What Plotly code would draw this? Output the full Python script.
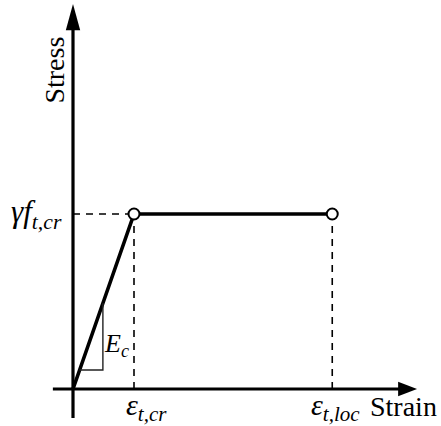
import plotly.graph_objects as go

# Bilinear tension model (normalised units)
strain_cr = 1.0      # cracking strain
strain_loc = 4.25    # localisation strain
stress_t = 1.0       # gamma * f_t,cr

curve_x = [0.0, strain_cr, strain_loc]
curve_y = [0.0, stress_t, stress_t]

# slope triangle for E_c
tri_lo = 0.109
tri_hi = 0.49

# axis extents
x_min, x_max = -0.33, 5.64
y_min, y_max = -0.166, 2.2

INK = "#000000"
SERIF = "Liberation Serif"

fig = go.Figure()

# stress-strain curve
fig.add_trace(go.Scatter(x=curve_x, y=curve_y, mode="lines",
                         line=dict(color=INK, width=3.6), hoverinfo="skip"))

# guide lines
for xv in [strain_cr, strain_loc]:
    fig.add_trace(go.Scatter(x=[xv, xv], y=[0, stress_t], mode="lines",
                             line=dict(color=INK, width=1.6, dash="7px,6px"),
                             hoverinfo="skip"))
fig.add_trace(go.Scatter(x=[0, strain_cr], y=[stress_t, stress_t], mode="lines",
                         line=dict(color=INK, width=1.6, dash="7px,6px"),
                         hoverinfo="skip"))

# slope triangle
fig.add_trace(go.Scatter(x=[tri_lo, tri_hi, tri_hi], y=[tri_lo, tri_lo, tri_hi],
                         mode="lines", line=dict(color="#222222", width=1.4),
                         hoverinfo="skip"))

# axes
fig.add_trace(go.Scatter(x=[x_min, x_max - 0.2], y=[0, 0], mode="lines",
                         line=dict(color=INK, width=3.2), hoverinfo="skip"))
fig.add_trace(go.Scatter(x=[0, 0], y=[y_min, y_max - 0.1], mode="lines",
                         line=dict(color=INK, width=3.2), hoverinfo="skip"))

# arrowheads
fig.add_shape(type="path",
              path=f"M {x_max},0 L {x_max-0.31},0.042 L {x_max-0.31},-0.042 Z",
              fillcolor=INK, line=dict(color=INK, width=0))
fig.add_shape(type="path",
              path=f"M 0,{y_max} L 0.118,{y_max-0.15} L -0.118,{y_max-0.15} Z",
              fillcolor=INK, line=dict(color=INK, width=0))

# open circles at the ends of the plateau
fig.add_trace(go.Scatter(x=[strain_cr, strain_loc], y=[stress_t, stress_t],
                         mode="markers",
                         marker=dict(symbol="circle", size=11, color="white",
                                     line=dict(color=INK, width=2)),
                         hoverinfo="skip"))

def label(text, x, y, size=28, xanchor="center", angle=0):
    fig.add_annotation(x=x, y=y, xref="x", yref="y", text=text, showarrow=False,
                       xanchor=xanchor, yanchor="middle", textangle=angle,
                       font=dict(family=SERIF, size=size, color=INK))

label("<i>γf<sub>t,cr</sub></i>", -0.14, 1.0, xanchor="right", size=31)
label("Stress", -0.31, 1.82, angle=-90)
label("<i>ε<sub>t,cr</sub></i>", 1.21, -0.1, size=30)
label("<i>ε<sub>t,loc</sub></i>", 4.31, -0.1, size=30)
label("Strain", 5.42, -0.1)
label("<i>E<sub>c</sub></i>", 0.72, 0.25, size=26)

fig.update_layout(
    width=441, height=426,
    margin=dict(l=0, r=0, t=0, b=0),
    paper_bgcolor="white", plot_bgcolor="white",
    showlegend=False,
    xaxis=dict(range=[-73 / 61, 368 / 61], visible=False, fixedrange=True),
    yaxis=dict(range=[-37 / 175, 389 / 175], visible=False, fixedrange=True),
)

fig.write_html("out.html")
